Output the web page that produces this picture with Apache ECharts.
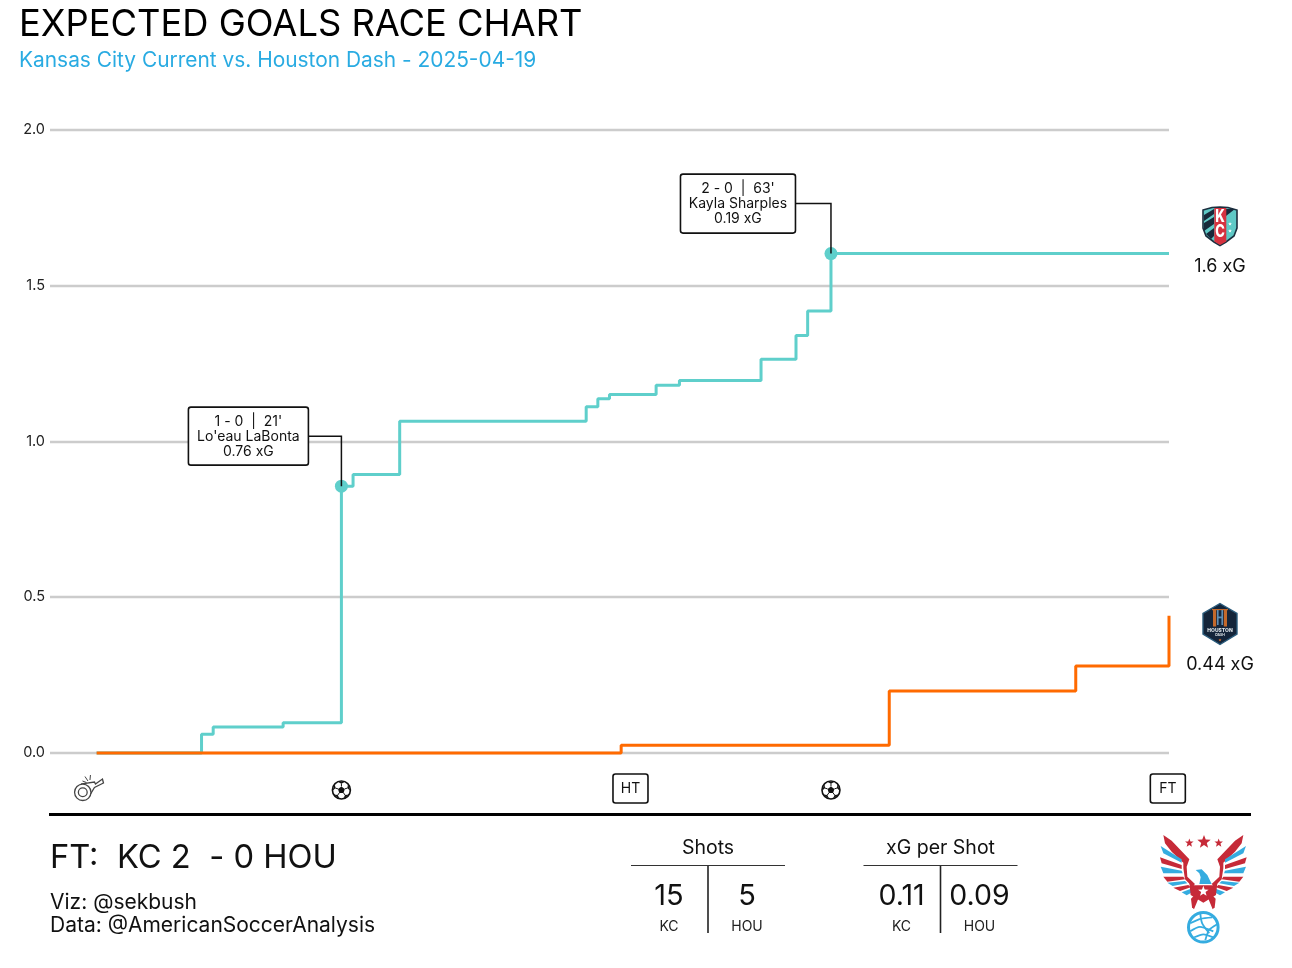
<!DOCTYPE html>
<html><head><meta charset="utf-8">
<style>html,body{margin:0;padding:0;background:#fff}#c{width:1292px;height:968px}</style>
<script src="https://cdn.jsdelivr.net/npm/echarts@6/dist/echarts.min.js"></script>
</head><body><div id="c"></div>
<script>
const FONT = 'Inter, Lato, sans-serif';
const titleText = 'EXPECTED GOALS RACE CHART';
const subtitleText = 'Kansas City Current vs. Houston Dash - 2025-04-19';
const yTicks = [0, 0.5, 1, 1.5, 2];
const kcXG = [[0,0],[9,0.06],[10,0.083],[16,0.097],[21,0.856],[22,0.893],[26,1.064],[42,1.111],[43,1.136],[44,1.15],[48,1.18],[50,1.195],[57,1.263],[60,1.339],[61,1.418],[63,1.602],[92,1.602]];
const houXG = [[0,0],[45,0.025],[68,0.199],[84,0.279],[92,0.44]];
const goalMarks = [[21,0.856],[63,1.602]];
const goalNotes = [["1 - 0  |  21'","Lo'eau LaBonta","0.76 xG"],["2 - 0  |  63'","Kayla Sharples","0.19 xG"]];
const periodMarks = [[45.8,'HT'],[91.9,'FT']];
const kickoffMinute = [-0.7];
const endLabels = ['1.6 xG','0.44 xG'];
const scoreLine = 'FT:  KC 2  - 0 HOU';
const credits = ['Viz: @sekbush','Data: @AmericanSoccerAnalysis'];
const tableHeads = ['Shots','xG per Shot'];
const tableValues = [['15','5'],['0.11','0.09']];
const teamCodes = ['KC','HOU'];

const KC = '#5FCFCB', HOU = '#FF6A00';
const INK = '#111';
function T(x,y,text,size,o){return {type:'text',x:x,y:y,style:{text:text,font:(o&&o.weight||'400')+' '+size+'px '+FONT,fill:(o&&o.fill)||INK,align:(o&&o.align)||'center',verticalAlign:'middle'}};}
function L(x1,y1,x2,y2,w,c){return {type:'line',shape:{x1,y1,x2,y2},style:{stroke:c||INK,lineWidth:w}};}
function P(pts,fill){return {type:'polygon',shape:{points:pts},style:{fill:fill}};}
function star(cx,cy,R,fill){const p=[];for(let i=0;i<10;i++){const r=i%2?R*0.42:R,a=-Math.PI/2+i*Math.PI/5;p.push([cx+r*Math.cos(a),cy+r*Math.sin(a)]);}return P(p,fill);}

function ballIcon(cx,cy){
  const R=9;
  const out=[{type:'circle',shape:{cx,cy,r:R},style:{fill:'#fff',stroke:'#111',lineWidth:1.6}}];
  const pent=[];for(let i=0;i<5;i++){const a=-Math.PI/2+i*2*Math.PI/5;pent.push([cx+3.6*Math.cos(a),cy+3.6*Math.sin(a)]);}
  out.push(P(pent,'#111'));
  for(let i=0;i<5;i++){const a=-Math.PI/2+i*2*Math.PI/5;
    out.push(L(cx+3.6*Math.cos(a),cy+3.6*Math.sin(a),cx+6.5*Math.cos(a),cy+6.5*Math.sin(a),1,'#111'));
    const c=[];[-0.42,0.42].forEach(d=>c.push([cx+R*Math.cos(a+d),cy+R*Math.sin(a+d)]));c.push([cx+6.2*Math.cos(a),cy+6.2*Math.sin(a)]);
    out.push(P(c,'#111'));}
  return {type:'group',children:out};
}
function whistleIcon(cx,cy){
  const s='#444',ccx=cx-5.7,ccy=cy+4.3;
  return {type:'group',children:[
    {type:'polygon',shape:{points:[[ccx-1,ccy-8.5],[cx+6,cy-6],[cx+7,cy-4],[cx+14,cy-9],[cx+15,cy-5],[cx+6,cy-0.5],[ccx+7,ccy+3]]},style:{fill:'#fff',stroke:s,lineWidth:1.3}},
    {type:'circle',shape:{cx:ccx,cy:ccy,r:8.2},style:{fill:'#fff',stroke:s,lineWidth:1.3}},
    {type:'circle',shape:{cx:ccx,cy:ccy,r:4.4},style:{fill:'#fff',stroke:s,lineWidth:1.3}},
    L(cx-0.5,cy-7,cx-3.5,cy-11.5,1,s),L(cx+1.5,cy-8,cx+2,cy-13,1,s),L(cx-2,cy-5.5,cx-6,cy-7,1,s)
  ]};
}
function kcLogo(){
  const sh=[[1203,210],[1212,207.5],[1220,207],[1228,207.5],[1237,210],[1237,228],[1234,236],[1226,242],[1220,245.5],[1214,242],[1206,236],[1203,228]];
  const kcType=(x,y,ch)=>({type:'text',x:x,y:y,scaleX:0.92,scaleY:1.2,style:{text:ch,font:'800 14px '+FONT,fill:'#fff',align:'center',verticalAlign:'middle'}});
  return {type:'group',children:[
    {type:'polygon',shape:{points:sh},style:{fill:'#5FC9C6',stroke:'#1c2f3f',lineWidth:1.6}},
    P([[1204,215],[1214,209],[1214,214],[1204,221]],'#17293a'),
    P([[1204,223],[1214,217],[1214,224],[1204,231]],'#17293a'),
    P([[1206,234],[1214,228],[1214,236],[1211,239]],'#17293a'),
    P([[1226,209],[1235,209],[1226,216]],'#17293a'),
    P([[1214.3,208],[1226.3,208],[1226.3,241.5],[1220,245],[1214.3,241.5]],'#D6323F'),
    kcType(1220,217,'K'),kcType(1220,232,'C'),
    star(1230,224,2,'#fff'),star(1230,231,2,'#fff')
  ]};
}
function houLogo(){
  const hx=[[1220,603.5],[1237,613.5],[1237,634],[1220,644.5],[1203,634],[1203,613.5]];
  const O='#C4692B',B='#5F8FB5';
  return {type:'group',children:[
    {type:'polygon',shape:{points:hx},style:{fill:'#14253A',stroke:'#2B5C7C',lineWidth:1.4}},
    {type:'rect',shape:{x:1213,y:609,width:3.2,height:17.5},style:{fill:O}},
    {type:'rect',shape:{x:1223.8,y:609,width:3.2,height:17.5},style:{fill:O}},
    {type:'rect',shape:{x:1212,y:609,width:16,height:1.2},style:{fill:O}},
    {type:'rect',shape:{x:1217,y:610,width:1.6,height:15},style:{fill:B}},
    {type:'rect',shape:{x:1221.4,y:610,width:1.6,height:15},style:{fill:B}},
    {type:'rect',shape:{x:1217,y:616.5,width:6,height:1.8},style:{fill:B}},
    T(1220,630.5,'HOUSTON',5,{weight:'800',fill:'#dfe6ea'}),
    T(1220,635,'DASH',3.4,{weight:'700',fill:'#dfe6ea'}),
    star(1220,640,1.6,'#E8732A')
  ]};
}
function eagleLogo(){
  const RED='#C62A38',BLUE='#35ACE0';
  const cx=220;
  const map=(p,m)=>[1130+(m?2*cx-p[0]:p[0])/3,820+p[1]/3];
  const wing=[
    [RED,[[100,45],[125,62],[178,118],[170,140],[172,170],[195,192],[187,200],[165,178],[160,145],[160,128],[125,95],[105,70]]],
    [BLUE,[[92,78],[155,118],[155,128],[100,100]]],
    [RED,[[90,112],[155,135],[155,147],[95,130]]],
    [BLUE,[[92,140],[155,152],[158,160],[100,160]]],
    [RED,[[100,170],[160,170],[165,178],[112,185]]],
    [BLUE,[[112,188],[165,183],[172,190],[128,198]]],
    [RED,[[130,203],[175,195],[182,202],[150,213]]],
    [BLUE,[[155,217],[187,205],[195,212],[170,226]]],
    [RED,[[183,236],[197,222],[205,236],[192,268],[186,262]]]
  ];
  const ch=[];
  wing.forEach(w=>{ch.push(P(w[1].map(p=>map(p,false)),w[0]));ch.push(P(w[1].map(p=>map(p,true)),w[0]));});
  ch.push(P([[178,190],[192,196],[248,196],[262,190],[258,225],[220,248],[182,225]].map(p=>map(p)),RED));
  ch.push(P([[197,150],[215,148],[232,165],[245,192],[208,192],[212,172],[208,160]].map(p=>map(p)),BLUE));
  ch.push(star(1130+220/3,820+214/3,5.5,'#fff'));
  ch.push(star(1130+178/3,820+69/3,4.5,RED));
  ch.push(star(1130+222/3,820+66/3,7,RED));
  ch.push(star(1130+266/3,820+69/3,4.5,RED));
  const bx=1203.3,by=927.3;
  ch.push({type:'circle',shape:{cx:bx,cy:by,r:14.8},style:{fill:'#fff',stroke:BLUE,lineWidth:3}});
  [[[-13,-4],[-3,-9],[9,-10]],[[-3,-14],[-2,-4],[6,6]],[[-13,4],[-4,-2],[10,4]],[[14,-3],[5,2],[2,13]],[[-9,10],[0,6],[10,10]]].forEach(c=>{
    ch.push({type:'bezierCurve',shape:{x1:bx+c[0][0],y1:by+c[0][1],cpx1:bx+c[1][0],cpy1:by+c[1][1],cpx2:bx+c[1][0],cpy2:by+c[1][1],x2:bx+c[2][0],y2:by+c[2][1]},style:{fill:'none',stroke:BLUE,lineWidth:1.8}});
  });
  return {type:'group',children:ch};
}
function table(cx,i,vs){
  const vals=tableValues[i];
  return {type:'group',children:[
    T(cx,848,tableHeads[i],19.5),
    L(cx-77,865.5,cx+77,865.5,1.2,'#333'),
    L(cx,866,cx,933,1.6,'#222'),
    T(cx-39,896,vals[0],vs),
    T(cx+39,896,vals[1],vs),
    T(cx-39,926.5,teamCodes[0],14,{fill:'#222'}),
    T(cx+39,926.5,teamCodes[1],14,{fill:'#222'})
  ]};
}

const chart = echarts.init(document.getElementById('c'),null,{renderer:'canvas'});
chart.setOption({
  animation:false,
  backgroundColor:'#fff',
  grid:{left:50,right:123,top:129.5,bottom:215,containLabel:false},
  xAxis:{type:'value',min:-4,max:92,show:false,splitLine:{show:false}},
  yAxis:{type:'value',min:0,max:2,interval:0.5,
    axisLine:{show:false},axisTick:{show:false},
    axisLabel:{margin:5,fontSize:14.5,fontWeight:400,fontFamily:FONT,color:'#222',padding:[4,0,0,0],formatter:v=>v.toFixed(1)},
    splitLine:{lineStyle:{color:'#CCCCCC',width:2.4}}},
  series:[
    {type:'line',name:'KC',data:kcXG,step:'end',showSymbol:false,lineStyle:{color:KC,width:3},itemStyle:{color:KC},z:3,clip:false},
    {type:'line',name:'HOU',data:houXG,step:'end',showSymbol:false,lineStyle:{color:HOU,width:3},itemStyle:{color:HOU},z:4,clip:false},
    {type:'scatter',data:goalMarks,symbolSize:13,itemStyle:{color:KC,opacity:1},z:5,clip:false},
    {type:'custom',z:6,clip:false,data:goalNotes.map((n,i)=>[goalMarks[i][0],goalMarks[i][1],i]),
      renderItem:function(p,api){
        const i=api.value(2),c=api.coord([api.value(0),api.value(1)]);
        const n=goalNotes[i];
        const w=i?115:120, rise=50, top=c[1]-rise-(i?29.5:29);
        const right=i?c[0]-35.5:c[0]-33, h=i?59:58, left=right-w;
        const tx=(dy,s)=>({type:'text',x:left+w/2,y:top+h/2+dy,style:{text:s,font:'400 14px '+FONT,fill:'#111',align:'center',verticalAlign:'middle'}});
        return {type:'group',children:[
          {type:'polyline',shape:{points:[[c[0],c[1]],[c[0],c[1]-rise],[right,c[1]-rise]]},style:{stroke:'#111',lineWidth:1.5,fill:null}},
          {type:'rect',shape:{x:left,y:top,width:w,height:h,r:2.5},style:{fill:'#fff',stroke:'#111',lineWidth:1.6}},
          tx(-14.5,n[0]),tx(0.5,n[1]),tx(15.5,n[2])
        ]};
      }},
    {type:'custom',z:6,clip:false,data:periodMarks.map((m,i)=>[m[0],0,i]),
      renderItem:function(p,api){
        const c=api.coord([api.value(0),0]),m=periodMarks[api.value(2)];
        return {type:'group',children:[
          {type:'rect',shape:{x:c[0]-17.5,y:c[1]+21,width:35,height:29,r:2.5},style:{fill:'#fff',stroke:'#111',lineWidth:1.6}},
          {type:'text',x:c[0],y:c[1]+35.5,style:{text:m[1],font:'400 14px '+FONT,fill:'#111',align:'center',verticalAlign:'middle'}}
        ]};
      }},
    {type:'custom',z:6,clip:false,data:goalMarks.map(m=>[m[0],0]),
      renderItem:function(p,api){const c=api.coord([api.value(0),0]);return ballIcon(c[0],c[1]+37);}},
    {type:'custom',z:6,clip:false,data:kickoffMinute.map(m=>[m,0]),
      renderItem:function(p,api){const c=api.coord([api.value(0),0]);return whistleIcon(c[0],c[1]+35);}}
  ],
  graphic:{elements:[
    T(19,25.5,titleText,36.3,{align:'left',fill:'#000'}),
    T(19,61,subtitleText,20.9,{align:'left',fill:'#29ABE2'}),
    kcLogo(),T(1220,267,endLabels[0],18),
    houLogo(),T(1220,665,endLabels[1],18),
    L(49,814.5,1251,814.5,3,'#000'),
    T(50,858.5,scoreLine,32.7,{align:'left'}),
    T(50,903,credits[0],21,{align:'left'}),
    T(50,926,credits[1],21,{align:'left'}),
    table(708,0,29),table(940.5,1,28.5),
    eagleLogo()
  ]}
});
</script></body></html>
